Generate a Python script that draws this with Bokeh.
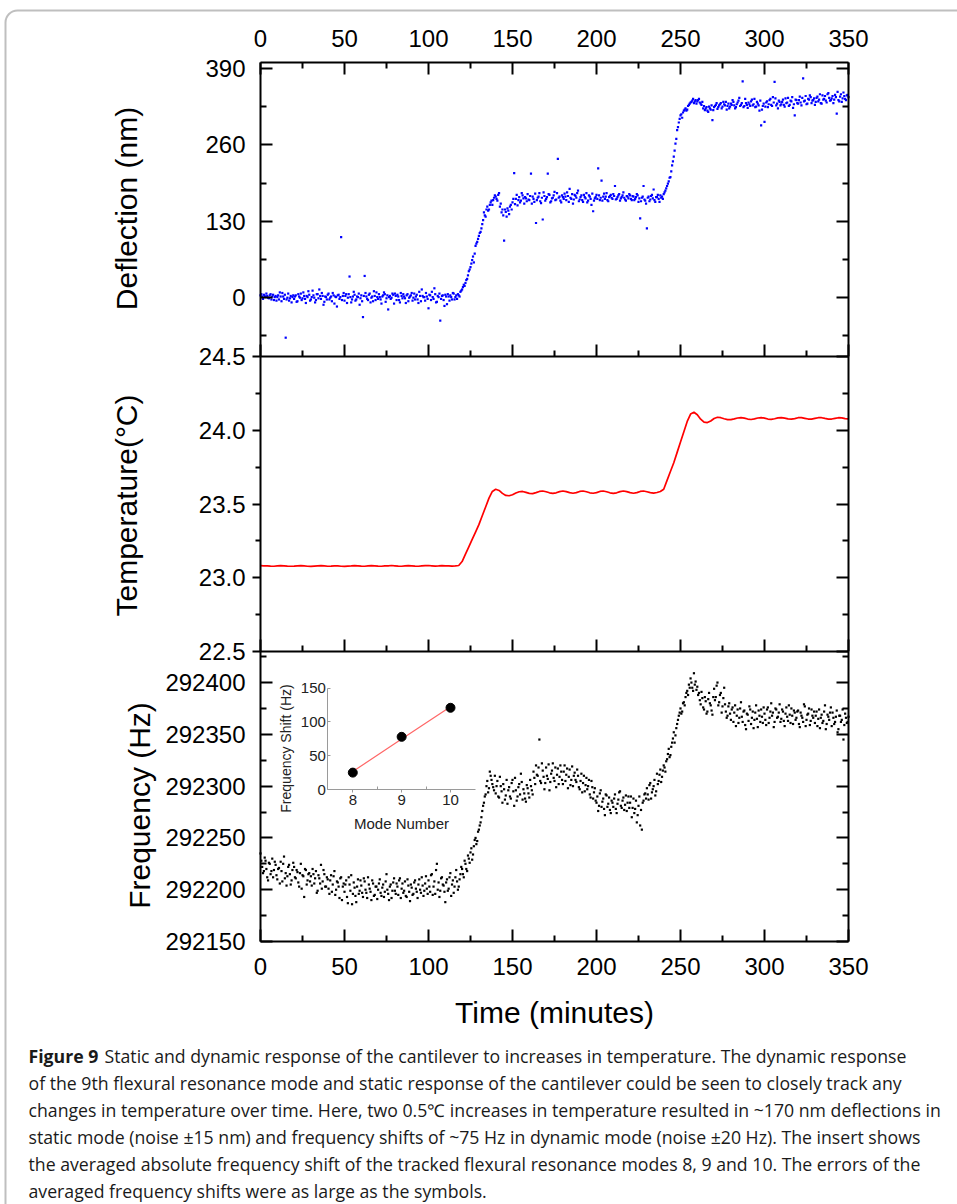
import math
import numpy as np
from bokeh.plotting import figure
from bokeh.models import (Range1d, LinearAxis, FixedTicker, PrintfTickFormatter,
                          Label, BoxAnnotation)
from bokeh.embed import file_html
from bokeh.resources import INLINE

# ---------------- data ----------------
# Deflection (nm), samples at whole minutes, t = 0 .. 350
deflection_nm = [
    4, 2, 5, 1, 3, -1, 6, 2, -4, 3,
    1, -3, 2, 8, -2, -68, 0, -5, 3, 1,
    -2, 4, -6, 2, 7, -1, 3, -9, 1, 5,
    -3, 12, 0, -4, 6, 14, -2, 3, -7, 1,
    5, -3, 2, 8, -10, 1, 4, -2, 103, 3,
    -5, 6, 0, 36, -8, 2, 5, -3, 1, -12,
    4, -33, 37, 2, -4, 7, 0, -6, 3, 9,
    -2, 1, -10, 4, 6, -1, -20, 3, 0, 5,
    7, -4, 2, -8, 3, 6, -1, 4, -6, 2,
    8, 0, -3, 5, -9, 3, 14, 1, -5, 2,
    -18, 4, 10, -2, 6, -7, 1, -39, 3, -4,
    5, -11, 2, 4, -3, 7, 1, -2, 4, 10,
    14, 22, 25, 32, 45, 52, 64, 60, 88, 95,
    105, 112, 125, 145, 138, 155, 150, 162, 158, 170,
    172, 165, 178, 160, 150, 97, 146, 152, 142, 158,
    162, 212, 168, 157, 171, 165, 174, 160, 169, 176,
    166, 211, 172, 163, 127, 170, 178, 161, 133, 173,
    168, 211, 175, 164, 170, 180, 167, 236, 172, 162,
    171, 177, 166, 173, 185, 168, 160, 175, 170, 182,
    167, 174, 163, 171, 178, 165, 172, 158, 147, 169,
    175, 220, 166, 199, 172, 168, 178, 164, 173, 170,
    176, 190, 168, 174, 165, 171, 179, 167, 173, 169,
    174, 166, 172, 168, 176, 163, 135, 170, 190, 165,
    118, 172, 167, 175, 184, 163, 171, 168, 174, 172,
    176, 182, 190, 198, 205, 225, 240, 262, 285, 298,
    310, 306, 318, 322, 320, 328, 332, 335, 331, 336,
    334, 338, 330, 333, 326, 322, 318, 325, 320, 302,
    324, 328, 321, 327, 331, 325, 329, 333, 326, 322,
    330, 336, 327, 324, 332, 340, 328, 368, 326, 331,
    323, 329, 334, 327, 338, 325, 330, 318, 293, 326,
    299, 332, 324, 336, 328, 341, 367, 327, 322, 333,
    329, 337, 325, 331, 340, 328, 334, 323, 310, 336,
    330, 342, 327, 373, 335, 329, 338, 344, 331, 336,
    328, 340, 334, 346, 330, 337, 343, 332, 348, 335,
    339, 331, 345, 313, 336, 342, 333, 349, 338, 344,
    341,
]
# Deflection (nm), samples at half minutes, t = 0.5 .. 349.5
deflection_half_nm = [
    6, -2, 3, 7, 0, 4, -3, 5, 1, -5,
    4, 9, -6, 2, 5, -3, 7, -1, -8, 4,
    2, -7, 6, 0, -4, 9, -2, 3, 11, -5,
    1, 4, -8, 6, -1, 3, 8, -12, 2, -3,
    7, 0, -6, 4, 2, -15, 5, 1, -4, 8,
    3, -9, 6, 1, -3, 10, -5, 2, 7, -1,
    -6, 3, 8, -2, 5, -8, 2, 11, -4, 1,
    6, -3, 2, 9, -7, 4, 1, -2, 7, -10,
    3, 5, -4, 8, -1, 2, -9, 6, 0, 4,
    -5, 7, 2, -3, 10, -6, 3, 1, 8, -2,
    5, -4, 1, 16, -8, 3, 7, -2, 4, -14,
    2, 6, -5, 1, 8, -3, 4, 6, 2, 12,
    18, 20, 30, 38, 48, 58, 70, 75, 92, 100,
    110, 118, 132, 140, 150, 148, 158, 165, 166, 174,
    168, 175, 155, 145, 140, 150, 138, 148, 155, 150,
    168, 159, 175, 166, 162, 178, 169, 171, 164, 167,
    173, 160, 168, 177, 166, 172, 164, 170, 179, 165,
    171, 176, 162, 169, 174, 166, 178, 170, 165, 174,
    168, 172, 179, 163, 170, 176, 167, 173, 178, 164,
    171, 166, 175, 169, 162, 174, 168, 177, 165, 171,
    168, 174, 170, 165, 177, 172, 166, 171, 175, 168,
    173, 167, 171, 176, 169, 174, 170, 165, 172, 176,
    168, 173, 166, 171, 174, 169, 164, 172, 167, 160,
    170, 164, 173, 169, 166, 171, 175, 163, 170, 168,
    179, 186, 194, 204, 215, 232, 250, 270, 290, 304,
    312, 315, 320, 318, 326, 330, 333, 338, 334, 330,
    336, 332, 328, 322, 319, 324, 316, 322, 327, 319,
    326, 331, 324, 329, 322, 333, 327, 320, 330, 325,
    328, 333, 322, 329, 335, 326, 331, 324, 338, 328,
    332, 326, 337, 329, 324, 333, 327, 335, 320, 330,
    325, 334, 329, 338, 326, 332, 339, 330, 335, 327,
    333, 328, 339, 332, 326, 335, 341, 329, 337, 331,
    336, 332, 340, 334, 343, 330, 337, 341, 335, 339,
    333, 342, 337, 331, 344, 338, 335, 346, 340, 336,
    343, 337, 341, 350, 334, 346, 339, 343, 336, 345,
]

# Temperature (deg C), one sample every 2 minutes, t = 0 .. 350
temperature_c = [
    23.082, 23.080, 23.081, 23.079, 23.078, 23.080, 23.082, 23.081, 23.079, 23.078,
    23.079, 23.081, 23.082, 23.080, 23.078, 23.077, 23.079, 23.081, 23.082, 23.080,
    23.078, 23.079, 23.081, 23.080, 23.078, 23.077, 23.079, 23.080, 23.082, 23.081,
    23.079, 23.078, 23.080, 23.082, 23.081, 23.079, 23.078, 23.080, 23.081, 23.083,
    23.081, 23.079, 23.078, 23.080, 23.082, 23.081, 23.079, 23.078, 23.080, 23.082,
    23.083, 23.081, 23.079, 23.080, 23.082, 23.080, 23.081, 23.079, 23.080, 23.083,
    23.110, 23.160, 23.210, 23.260, 23.310, 23.360, 23.420, 23.480, 23.540, 23.585,
    23.600, 23.592, 23.572, 23.558, 23.556, 23.563, 23.575, 23.583, 23.585, 23.579,
    23.572, 23.570, 23.577, 23.585, 23.588, 23.583, 23.576, 23.572, 23.576, 23.584,
    23.588, 23.584, 23.577, 23.573, 23.577, 23.585, 23.588, 23.583, 23.576, 23.573,
    23.577, 23.585, 23.588, 23.583, 23.576, 23.572, 23.576, 23.584, 23.588, 23.584,
    23.577, 23.573, 23.577, 23.585, 23.588, 23.583, 23.577, 23.574, 23.578, 23.585,
    23.600, 23.660, 23.720, 23.780, 23.850, 23.920, 23.990, 24.060, 24.110, 24.122,
    24.105, 24.075, 24.055, 24.052, 24.063, 24.080, 24.088, 24.085, 24.078, 24.072,
    24.072, 24.077, 24.083, 24.086, 24.082, 24.076, 24.073, 24.077, 24.083, 24.086,
    24.082, 24.076, 24.074, 24.078, 24.084, 24.086, 24.082, 24.077, 24.075, 24.079,
    24.085, 24.086, 24.081, 24.076, 24.075, 24.080, 24.085, 24.085, 24.080, 24.076,
    24.076, 24.081, 24.085, 24.084, 24.079, 24.077,
]

# Frequency (Hz), samples at whole minutes, t = 0 .. 350
frequency_hz = [
    292235, 292222, 292218, 292228, 292212, 292226, 292215, 292230, 292219, 292224,
    292210, 292221, 292227, 292208, 292232, 292216, 292213, 292224, 292205, 292219,
    292222, 292211, 292217, 292203, 292225, 292214, 292193, 292219, 292209, 292216,
    292213, 292220, 292206, 292218, 292199, 292211, 292224, 292208, 292215, 292203,
    292210, 292196, 292214, 292205, 292218, 292200, 292207, 292192, 292212, 292203,
    292198, 292209, 292187, 292205, 292214, 292196, 292202, 292188, 292210, 292199,
    292204, 292193, 292208, 292197, 292212, 292201, 292190, 292206, 292195, 292203,
    292200, 292210, 292194, 292205, 292198, 292215, 292196, 292203, 292192, 292207,
    292199, 292206, 292195, 292211, 292201, 292197, 292208, 292193, 292204, 292189,
    292202, 292196, 292209, 292198, 292205, 292200, 292212, 292194, 292206, 292201,
    292209, 292198, 292215, 292203, 292196, 292225, 292207, 292199, 292212, 292204,
    292188, 292210, 292201, 292216, 292205, 292197, 292212, 292208, 292203, 292215,
    292220, 292212, 292225, 292218, 292230, 292236, 292229, 292242, 292250, 292247,
    292258, 292265, 292276, 292284, 292292, 292305, 292298, 292310, 292302, 292296,
    292293, 292305, 292289, 292300, 292284, 292297, 292291, 292283, 292299, 292288,
    292306, 292281, 292296, 292290, 292302, 292312, 292287, 292293, 292285, 292298,
    292289, 292300, 292292, 292308, 292320, 292310, 292345, 292303, 292315, 292297,
    292318, 292307, 292296, 292312, 292322, 292305, 292299, 292317, 292309, 292314,
    292302, 292320, 292311, 292298, 292316, 292306, 292300, 292313, 292304, 292310,
    292297, 292312, 292303, 292295, 292308, 292300, 292292, 292305, 292288, 292298,
    292284, 292276, 292293, 292280, 292288, 292272, 292291, 292283, 292277, 292286,
    292280, 292292, 292274, 292287, 292295, 292279, 292289, 292282, 292276, 292290,
    292284, 292270, 292288, 292278, 292265, 292281, 292262, 292258, 292286, 292293,
    292298, 292287, 292303, 292294, 292300, 292291, 292312, 292305, 292316, 292309,
    292320, 292314, 292326, 292336, 292330, 292342, 292352, 292349, 292360, 292368,
    292375, 292372, 292381, 292386, 292392, 292398, 292404, 292395, 292409, 292401,
    292396, 292390, 292379, 292385, 292374, 292382, 292372, 292390, 292378, 292369,
    292394, 292386, 292400, 292381, 292390, 292377, 292395, 292372, 292368, 292380,
    292364, 292376, 292371, 292358, 292374, 292366, 292381, 292362, 292373, 292355,
    292369, 292377, 292360, 292372, 292364, 292378, 292357, 292368, 292374, 292361,
    292370, 292359, 292376, 292366, 292380, 292371, 292362, 292374, 292367, 292379,
    292365, 292372, 292358, 292376, 292363, 292369, 292375, 292360, 292371, 292366,
    292373, 292357, 292368, 292362, 292377, 292364, 292370, 292359, 292374, 292366,
    292361, 292372, 292365, 292356, 292369, 292363, 292378, 292360, 292367, 292371,
    292358, 292366, 292362, 292373, 292355, 292368, 292364, 292345, 292370, 292361,
    292367,
]
# Frequency (Hz), samples at half minutes, t = 0.5 .. 349.5
frequency_half_hz = [
    292228, 292216, 292231, 292220, 292209, 292225, 292218, 292212, 292227, 292214,
    292220, 292206, 292218, 292225, 292211, 292204, 292222, 292215, 292209, 292226,
    292212, 292219, 292207, 292216, 292201, 292213, 292220, 292205, 292215, 292208,
    292204, 292215, 292211, 292197, 292214, 292206, 292201, 292219, 292203, 292212,
    292201, 292209, 292198, 292213, 292195, 292208, 292203, 292211, 292190, 292206,
    292205, 292193, 292212, 292199, 292186, 292207, 292194, 292203, 292196, 292209,
    292197, 292211, 292200, 292192, 292205, 292198, 292209, 292194, 292203, 292191,
    292206, 292197, 292202, 292193, 292208, 292200, 292190, 292205, 292199, 292211,
    292196, 292203, 292209, 292192, 292206, 292199, 292194, 292210, 292198, 292205,
    292195, 292207, 292201, 292192, 292210, 292197, 292204, 292199, 292213, 292196,
    292203, 292214, 292195, 292208, 292219, 292200, 292193, 292211, 292205, 292198,
    292207, 292199, 292212, 292194, 292209, 292203, 292219, 292200, 292210, 292222,
    292215, 292228, 292220, 292233, 292226, 292240, 292234, 292248, 292244, 292256,
    292262, 292270, 292281, 292290, 292300, 292294, 292314, 292306, 292299, 292310,
    292300, 292290, 292309, 292295, 292302, 292287, 292306, 292296, 292290, 292303,
    292295, 292308, 292286, 292299, 292292, 292304, 292297, 292288, 292301, 292293,
    292306, 292296, 292314, 292302, 292311, 292318, 292305, 292322, 292309, 292303,
    292310, 292321, 292304, 292315, 292308, 292318, 292311, 292302, 292320, 292306,
    292314, 292305, 292317, 292309, 292301, 292319, 292310, 292306, 292316, 292299,
    292305, 292294, 292310, 292301, 292297, 292306, 292289, 292299, 292294, 292286,
    292290, 292281, 292296, 292285, 292278, 292292, 292280, 292289, 292274, 292284,
    292288, 292278, 292283, 292294, 292281, 292286, 292277, 292291, 292284, 292279,
    292290, 292279, 292274, 292286, 292272, 292290, 292277, 292284, 292292, 292288,
    292292, 292301, 292288, 292297, 292306, 292295, 292302, 292311, 292304, 292315,
    292318, 292324, 292331, 292328, 292338, 292346, 292342, 292356, 292364, 292371,
    292370, 292380, 292378, 292390, 292388, 292395, 292400, 292392, 292398, 292393,
    292388, 292383, 292391, 292376, 292386, 292370, 292384, 292380, 292373, 292386,
    292383, 292397, 292378, 292388, 292371, 292385, 292379, 292366, 292377, 292370,
    292374, 292362, 292378, 292368, 292361, 292375, 292367, 292372, 292359, 292370,
    292363, 292374, 292366, 292356, 292371, 292365, 292373, 292362, 292367, 292376,
    292364, 292374, 292361, 292372, 292368, 292357, 292375, 292366, 292371, 292362,
    292374, 292363, 292370, 292367, 292378, 292361, 292368, 292373, 292364, 292372,
    292360, 292371, 292366, 292379, 292358, 292369, 292375, 292363, 292368, 292372,
    292368, 292358, 292374, 292366, 292361, 292372, 292355, 292369, 292364, 292376,
    292371, 292360, 292367, 292352, 292368, 292362, 292374, 292359, 292366, 292362,
]

# Inset: averaged absolute frequency shift per mode
mode_number = [8, 9, 10]
freq_shift_hz = [25, 78, 121]

# Ticks
time_ticks = [0, 50, 100, 150, 200, 250, 300, 350]
time_minor = [25, 75, 125, 175, 225, 275, 325]
defl_ticks = [0, 130, 260, 390]
defl_minor = [-65, 65, 195, 325]
temp_ticks = [22.5, 23.0, 23.5, 24.0, 24.5]
temp_minor = [22.75, 23.25, 23.75, 24.25]
freq_ticks = [292150, 292200, 292250, 292300, 292350, 292400]
freq_minor = [292175, 292225, 292275, 292325, 292375, 292425]
inset_x_ticks = [8, 9, 10]
inset_y_ticks = [0, 50, 100, 150]

caption_lines = [
    "Static and dynamic response of the cantilever to increases in temperature. The dynamic response",
    "of the 9th flexural resonance mode and static response of the cantilever could be seen to closely track any",
    "changes in temperature over time. Here, two 0.5\u2103 increases in temperature resulted in ~170 nm deflections in",
    "static mode (noise \u00b115 nm) and frequency shifts of ~75 Hz in dynamic mode (noise \u00b120 Hz). The insert shows",
    "the averaged absolute frequency shift of the tracked flexural resonance modes 8, 9 and 10. The errors of the",
    "averaged frequency shifts were as large as the symbols.",
]

# ---------------- layout (page pixels; the canvas starts at page 0,0) ----------------
W, H = 957, 1204
FL, FR, FT, FB = 260, 848, 62, 941      # plot box of the three stacked panels
SEP1, SEP2 = 356, 651                    # panel separators


def yrange(v_a, p_a, v_b, p_b):
    """Range covering the whole canvas height from two value/pixel pairs."""
    s = (v_b - v_a) / (p_b - p_a)
    return Range1d(start=v_a + (H - p_a) * s, end=v_a + (0 - p_a) * s)


def xrange_(v_a, p_a, v_b, p_b):
    s = (v_b - v_a) / (p_b - p_a)
    return Range1d(start=v_a + (0 - p_a) * s, end=v_a + (W - p_a) * s)


# the frame fills the whole canvas; every axis is placed with fixed_location
p = figure(width=W, height=H, output_backend="svg", toolbar_location=None,
           x_range=xrange_(0, FL, 350, FR), y_range=Range1d(H, 0),
           x_axis_location=None, y_axis_location=None,
           min_border=0, min_border_left=0, min_border_right=0,
           min_border_top=0, min_border_bottom=0)
p.grid.visible = False
p.outline_line_color = None
p.background_fill_color = "white"
p.border_fill_color = "white"

p.extra_x_ranges = {
    "px": Range1d(0, W),
    "ix": xrange_(8, 352.3, 10, 450.0),
}
p.extra_y_ranges = {
    "defl": yrange(400, FT, -100, SEP1),
    "temp": yrange(24.5, SEP1, 22.5, SEP2),
    "freq": yrange(292430, SEP2, 292150, FB),
    "iy": yrange(150, 687.7, 0, 789.0),
}

TICK_FONT = "Liberation Sans"


def axis(ticks, minor, t_in=12, t_out=0, m_in=6, m_out=0, labels=True,
         standoff=15, size="24px", color="black", width=2, fmt=None,
         label_color="black", **kw):
    ax = LinearAxis(ticker=FixedTicker(ticks=ticks, minor_ticks=minor), **kw)
    ax.axis_line_color = color
    ax.axis_line_width = width
    ax.major_tick_line_color = color
    ax.minor_tick_line_color = color
    ax.major_tick_line_width = width
    ax.minor_tick_line_width = width
    ax.major_tick_in = t_in
    ax.major_tick_out = t_out
    ax.minor_tick_in = m_in
    ax.minor_tick_out = m_out
    if labels:
        ax.major_label_text_font = TICK_FONT
        ax.major_label_text_font_size = size
        ax.major_label_text_color = label_color
        ax.major_label_standoff = standoff
    else:
        ax.major_label_text_color = None
    if fmt is not None:
        ax.formatter = fmt
    return ax


# top and bottom time axes
p.add_layout(axis(time_ticks, time_minor, standoff=16, fixed_location=400,
                  y_range_name="defl", bounds=(0, 350)), "above")
p.add_layout(axis(time_ticks, time_minor, standoff=16, fixed_location=292150,
                  y_range_name="freq", bounds=(0, 350)), "below")
# separators between panels (ticks pointing up)
p.add_layout(axis(time_ticks, time_minor, labels=False, fixed_location=-100,
                  y_range_name="defl", bounds=(0, 350)), "below")
p.add_layout(axis(time_ticks, time_minor, labels=False, fixed_location=22.5,
                  y_range_name="temp", bounds=(0, 350)), "below")

# left axes
p.add_layout(axis(defl_ticks, defl_minor, fixed_location=0, y_range_name="defl",
                  bounds=(-100, 400), standoff=15), "left")
p.add_layout(axis(temp_ticks, temp_minor, t_in=0, t_out=8, m_in=0, m_out=5,
                  fixed_location=0, y_range_name="temp", bounds=(22.5, 24.5),
                  standoff=7, fmt=PrintfTickFormatter(format="%.1f")), "left")
p.add_layout(axis(freq_ticks, freq_minor, fixed_location=0, y_range_name="freq",
                  bounds=(292150, 292430), standoff=15,
                  fmt=PrintfTickFormatter(format="%d")), "left")
# right axes
p.add_layout(axis(defl_ticks, defl_minor, labels=False, fixed_location=350,
                  y_range_name="defl", bounds=(-100, 400)), "right")
p.add_layout(axis(temp_ticks, temp_minor, labels=False, fixed_location=350,
                  y_range_name="temp", bounds=(22.5, 24.5)), "right")
p.add_layout(axis(freq_ticks, freq_minor, labels=False, fixed_location=350,
                  y_range_name="freq", bounds=(292150, 292430)), "right")

# ---------------- data marks ----------------
t_defl = list(range(len(deflection_nm))) + [i + 0.5 for i in range(len(deflection_half_nm))]
y_defl = deflection_nm + deflection_half_nm
t_temp = [2 * i for i in range(len(temperature_c))]
t_freq = list(range(len(frequency_hz))) + [i + 0.5 for i in range(len(frequency_half_hz))]
y_freq = frequency_hz + frequency_half_hz

p.scatter(t_defl, y_defl, y_range_name="defl", marker="square",
          size=2.2, fill_color="#0000ff", line_color=None)
p.line(t_temp, temperature_c, y_range_name="temp", line_color="#ff0000",
       line_width=1.7)
p.scatter(t_freq, y_freq, y_range_name="freq", marker="square",
          size=2.2, fill_color="#000000", line_color=None)

# ---------------- inset ----------------
coef = np.polyfit(mode_number, freq_shift_hz, 1)
fit_y = list(np.polyval(coef, mode_number))
p.line(mode_number, fit_y, x_range_name="ix", y_range_name="iy",
       line_color="#ff6666", line_width=1.2)
p.scatter(mode_number, freq_shift_hz, x_range_name="ix", y_range_name="iy",
          marker="circle", size=9, fill_color="black", line_color="black")

INSET_GREY = "#9a9a9a"
p.add_layout(axis(inset_x_ticks, [8.5, 9.5], t_in=0, t_out=3, m_in=3, m_out=0,
                  standoff=2, size="15px", color=INSET_GREY, width=1,
                  label_color="#222222",
                  fixed_location=0, x_range_name="ix", y_range_name="iy",
                  bounds=(7.49, 10.51)), "below")
p.add_layout(axis(inset_y_ticks, [25, 75, 125], t_in=3, t_out=0, m_in=0, m_out=0,
                  standoff=2, size="15px", color=INSET_GREY, width=1,
                  label_color="#222222",
                  fixed_location=7.49, x_range_name="ix", y_range_name="iy",
                  bounds=(0, 150)), "left")

# ---------------- texts (page-pixel placement) ----------------
def page_label(x, y, text, size, angle=0.0, font="Liberation Sans", style="normal",
               align="center", baseline="middle", color="black"):
    p.add_layout(Label(x=x, y=y, text=text, x_range_name="px",
                       text_font=font, text_font_size=size, text_font_style=style,
                       text_align=align, text_baseline=baseline, angle=angle,
                       text_color=color))


page_label(126, 208, "Deflection (nm)", "30px", angle=math.pi / 2)
page_label(126, 505, "Temperature(\u00b0C)", "30px", angle=math.pi / 2)
page_label(139, 805, "Frequency (Hz)", "30px", angle=math.pi / 2)
page_label(554, 1012, "Time (minutes)", "30px")
page_label(285, 748, "Frequency Shift (Hz)", "14px", angle=math.pi / 2, color="#222222")
page_label(401, 823, "Mode Number", "15px", color="#222222")

CAP_FONT = "Open Sans"
CAP_SIZE = "17.7px"
cap_y0, cap_dy = 1055, 27
page_label(28, cap_y0, "Figure 9", CAP_SIZE, font=CAP_FONT, style="bold",
           align="left", color="#1a1a1a")
page_label(104, cap_y0, caption_lines[0], CAP_SIZE, font=CAP_FONT, align="left",
           color="#1a1a1a")
for i, line in enumerate(caption_lines[1:], start=1):
    page_label(28, cap_y0 + i * cap_dy, line, CAP_SIZE, font=CAP_FONT,
               align="left", color="#1a1a1a")

# rounded frame around the figure
p.add_layout(BoxAnnotation(left=5, right=W + 60, top=10, bottom=H + 60,
                           x_range_name="px",
                           fill_alpha=0, fill_color=None, line_color="#2a2a2a",
                           line_width=2, border_radius=12))

open("out.html", "w").write(file_html(p, INLINE))
